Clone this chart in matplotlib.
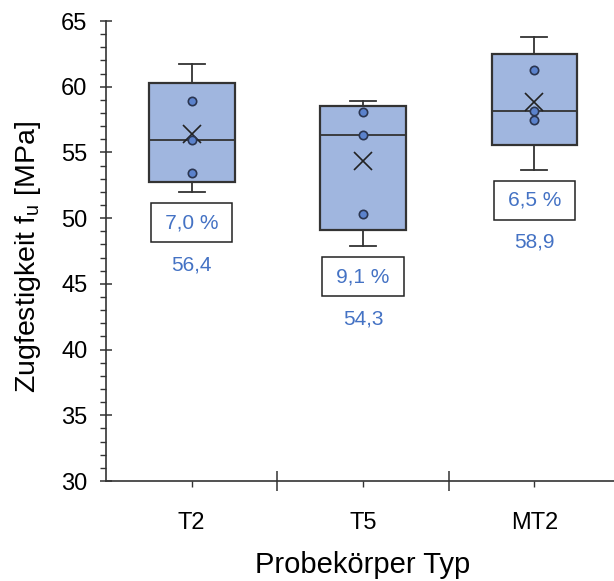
import matplotlib
matplotlib.use("Agg")
import matplotlib.pyplot as plt
from matplotlib.ticker import MultipleLocator, FixedLocator, NullFormatter
import numpy as np

plt.rcParams['font.family'] = ['Liberation Sans', 'DejaVu Sans']

############################################
#   Tensile strength per specimen type [MPa]
############################################
categories = ['T2', 'T5', 'MT2']
t2_vals  = [52.0, 53.45, 55.95, 58.9, 61.7]
t5_vals  = [47.9, 50.3, 56.35, 58.1, 58.9]
mt2_vals = [53.7, 57.45, 58.15, 61.3, 63.75]
series = [t2_vals, t5_vals, mt2_vals]

BOX_FILL  = '#a0b6df'
EDGE      = '#333333'
TEXT_BLUE = '#4472c4'
POINT_COL = '#5b82cc'


def comma(v, nd=1):
    return f'{v:.{nd}f}'.replace('.', ',')


# box stats with exclusive quartiles, whiskers at min/max
stats = []
for name, vals in zip(categories, series):
    v = np.array(vals)
    q1, med, q3 = np.percentile(v, [25, 50, 75], method='weibull')
    stats.append(dict(label=name, med=med, q1=q1, q3=q3,
                      whislo=v.min(), whishi=v.max(), mean=v.mean(), fliers=[]))

############################################
#   Figure setup
############################################
fig = plt.figure(figsize=(6.14, 5.81), dpi=100, facecolor='white')
ax = fig.add_axes([106/614, 100/581, 514/614, 460/581])

pos = np.arange(len(categories))
ax.bxp(stats, positions=pos, widths=0.5, patch_artist=True, showmeans=True,
       showfliers=False,
       boxprops=dict(facecolor=BOX_FILL, edgecolor=EDGE, linewidth=1.6),
       medianprops=dict(color=EDGE, linewidth=1.3),
       whiskerprops=dict(color=EDGE, linewidth=1.3),
       capprops=dict(color=EDGE, linewidth=1.3),
       meanprops=dict(marker='x', markeredgecolor='#222222', markersize=13,
                      markeredgewidth=1.2),
       capwidths=0.15, zorder=2)

# inner points (everything between the whisker ends)
for x, vals in zip(pos, series):
    v = np.sort(vals)[1:-1]
    ax.plot(np.full(len(v), x), v, linestyle='None', marker='o', markersize=6,
            markerfacecolor=POINT_COL, markeredgecolor='#2a3550',
            markeredgewidth=1.2, zorder=3)

# coefficient of variation (boxed) and mean below each box
for x, vals in zip(pos, series):
    v = np.array(vals)
    mean = v.mean()
    cv = v.std(ddof=1) / mean * 100
    ax.text(x, v.min() - 2.35, '\u2009' + comma(cv) + ' %\u2009', color=TEXT_BLUE,
            fontsize=15, ha='center', va='center',
            bbox=dict(boxstyle='square,pad=0.47', facecolor='white',
                      edgecolor='#222222', linewidth=1.1))
    ax.text(x, v.min() - 5.55, comma(mean), color=TEXT_BLUE, fontsize=15,
            ha='center', va='center')

############################################
#   Axes
############################################
ax.set_xlim(-0.5, 2.5)
ax.set_ylim(30, 65)
for s in ['top', 'right']:
    ax.spines[s].set_visible(False)
for s in ['left', 'bottom']:
    ax.spines[s].set_color('#333333')
    ax.spines[s].set_linewidth(1.2)

ax.yaxis.set_major_locator(MultipleLocator(5))
ax.yaxis.set_minor_locator(MultipleLocator(1))
ax.tick_params(axis='y', which='major', direction='inout', length=9, width=1.1,
               color='#333333', labelsize=17, pad=9)
ax.tick_params(axis='y', which='minor', direction='out', length=4, width=1.0,
               color='#333333')

# separators between groups, labels at group centres
ax.xaxis.set_major_locator(FixedLocator([0.5, 1.5]))
ax.xaxis.set_major_formatter(NullFormatter())
ax.xaxis.set_minor_locator(FixedLocator(pos))
ax.set_xticklabels(categories, minor=True)
ax.tick_params(axis='x', which='major', direction='inout', length=15, width=1.1,
               color='#333333')
ax.tick_params(axis='x', which='minor', direction='out', length=4, width=1.0,
               color='#333333', labelsize=17, pad=18)

ax.set_ylabel('Zugfestigkeit f$_\\mathregular{u}$ [MPa]', fontsize=20.5)
ax.yaxis.set_label_coords((43 - 106) / 514, (481 - 257) / 460)
ax.set_xlabel('Probekörper Typ', fontsize=21)
ax.xaxis.set_label_coords((363 - 106) / 514, (481 - 551) / 460)

fig.savefig('out.png', dpi=100)
